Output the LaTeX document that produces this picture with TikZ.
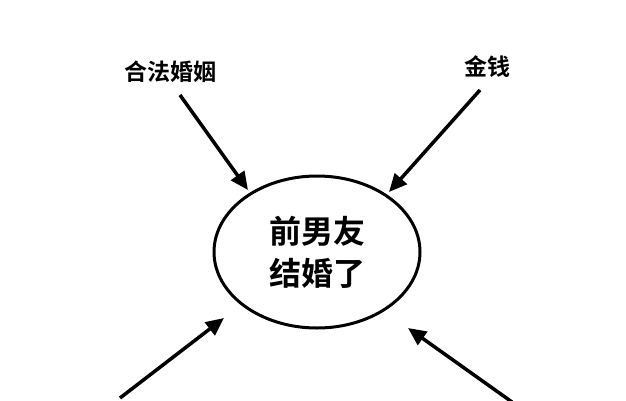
\documentclass[tikz,border=0pt]{standalone}
\usepackage{fontspec}
\newfontfamily\cjk{Noto Sans CJK SC Bold}
\usetikzlibrary{arrows.meta,shapes.geometric}
\tikzset{
  pull/.style={line width=3.5pt,-{Triangle[length=18pt,width=16pt]}},
  tag/.style={font=\cjk\fontsize{23}{26}\selectfont}
}
\begin{document}
\begin{tikzpicture}[x=1pt,y=-1pt]
\useasboundingbox[fill=white] (0,0) rectangle (626,400);
\node[draw,ellipse,line width=3pt,minimum width=206,minimum height=152,
  align=center,font=\cjk\fontsize{32}{42}\selectfont] (ex) at (317,252) {前男友\\结婚了};
\node[tag] (hefa) at (170,72) {合法婚姻};
\node[tag] (money) at (487,67) {金钱};
% arrow ends
\coordinate (a1) at (180,95);
\coordinate (b1) at (248,190);
\coordinate (a2) at (480,90);
\coordinate (b2) at (389,192);
\coordinate (a3) at (120,398);
\coordinate (b3) at (224,318);
\coordinate (a4) at (512,402);
\coordinate (b4) at (408,328);
\draw[pull] (a1) -- (b1);
\draw[pull] (a2) -- (b2);
\draw[pull] (a3) -- (b3);
\draw[pull] (a4) -- (b4);
\end{tikzpicture}
\end{document}
